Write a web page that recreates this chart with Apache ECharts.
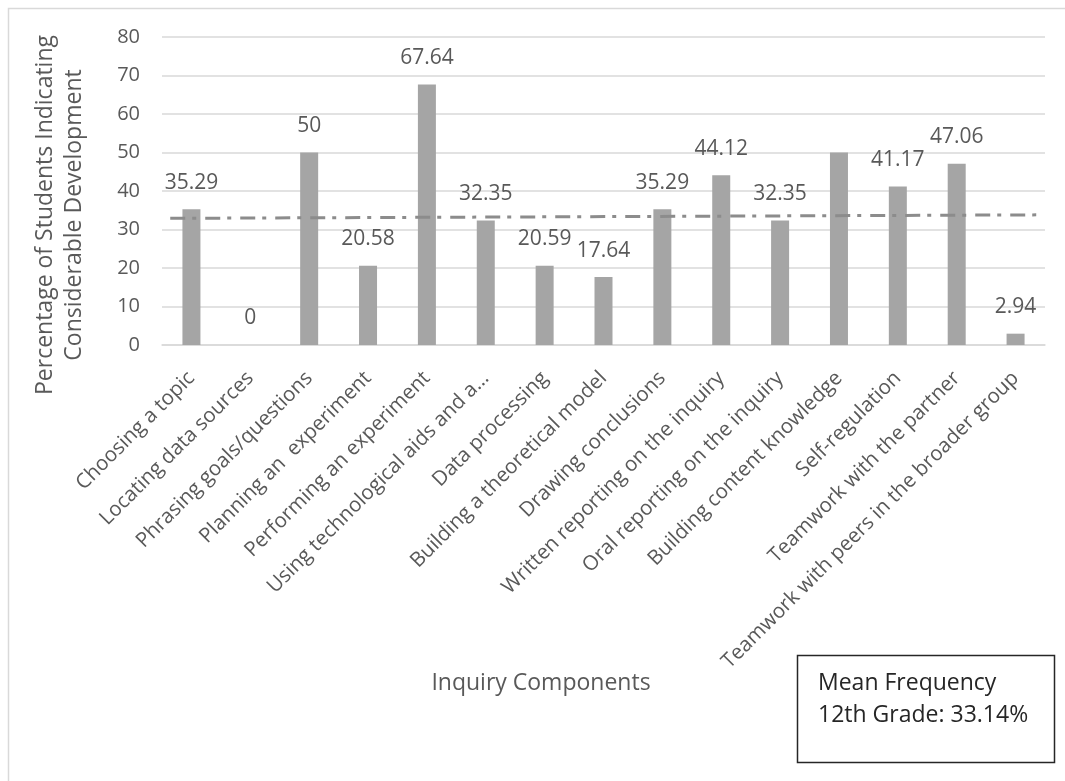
<!DOCTYPE html>
<html>
<head>
<meta charset="utf-8">
<script src="https://cdn.jsdelivr.net/npm/echarts@6/dist/echarts.min.js"></script>
<style>html,body{margin:0;padding:0;background:#fff}#c{width:1065px;height:781px}</style>
</head>
<body>
<div id="c"></div>
<script>
const categories = [
  'Choosing a topic',
  'Locating data sources',
  'Phrasing goals/questions',
  'Planning an  experiment',
  'Performing an experiment',
  'Using technological aids and a\u2026',
  'Data processing',
  'Building a theoretical model',
  'Drawing conclusions',
  'Written reporting on the inquiry',
  'Oral reporting on the inquiry',
  'Building content knowledge',
  'Self-regulation',
  'Teamwork with the partner',
  'Teamwork with peers in the broader group'
];
const values = [35.29, 0, 50, 20.58, 67.64, 32.35, 20.59, 17.64, 35.29, 44.12, 32.35, 50, 41.17, 47.06, 2.94];
const showLabel = [true, true, true, true, true, true, true, true, true, true, true, false, true, true, true];
const meanLineX = [-0.36, 14.36];
const meanLineY = [32.9, 33.8];
const yTicks = {min: 0, max: 80, interval: 10};
const yTitle = ['Percentage of Students Indicating', 'Considerable Development'];
const xTitle = 'Inquiry Components';
const noteLines = ['Mean Frequency', '12th Grade: 33.14%'];

const FONT = 'Open Sans';
const TXT = '#595959';
const chart = echarts.init(document.getElementById('c'), null, {renderer: 'canvas'});

const barData = values.map((v, i) => ({
  value: v,
  label: {show: showLabel[i]}
}));

chart.setOption({
  animation: false,
  backgroundColor: '#ffffff',
  textStyle: {fontFamily: FONT},
  grid: {left: 162, right: 20, top: 37, bottom: 436, containLabel: false},
  xAxis: [{
    type: 'category',
    data: categories,
    axisLine: {show: true, lineStyle: {color: '#D9D9D9', width: 1.5}},
    axisTick: {show: false},
    axisLabel: {interval: 0, rotate: 45, color: TXT, fontSize: 20.5, fontFamily: FONT, margin: 30}
  }, {
    type: 'value',
    min: -0.5, max: 14.5,
    show: false
  }],
  yAxis: {
    type: 'value',
    min: yTicks.min, max: yTicks.max, interval: yTicks.interval,
    axisLine: {show: false},
    axisTick: {show: false},
    axisLabel: {color: TXT, fontSize: 20, fontFamily: FONT, margin: 22},
    splitLine: {lineStyle: {color: '#D9D9D9', width: 1.5}}
  },
  series: [{
    type: 'bar',
    data: barData,
    barWidth: 18,
    itemStyle: {color: '#A5A5A5'},
    label: {show: true, position: 'top', distance: 16, color: TXT, fontSize: 21, fontFamily: FONT,
      formatter: p => String(p.value)}
  }, {
    type: 'line',
    xAxisIndex: 1,
    data: meanLineX.map((x, i) => [x, meanLineY[i]]),
    symbol: 'none',
    lineStyle: {color: '#8C8C8C', width: 3, type: [15, 7, 4, 9]},
    z: 5
  }],
  graphic: [{
    type: 'rect',
    shape: {x: 8.5, y: 8.5, width: 1080, height: 800},
    style: {fill: 'none', stroke: '#D9D9D9', lineWidth: 1.5},
    silent: true
  }, {
    type: 'text',
    x: 60, y: 215,
    rotation: Math.PI / 2,
    style: {text: yTitle.join('\n'), fill: TXT, font: '23px "Open Sans"', align: 'center', verticalAlign: 'middle', lineHeight: 29}
  }, {
    type: 'text',
    x: 541, y: 683,
    style: {text: xTitle, fill: TXT, font: '23px "Open Sans"', align: 'center', verticalAlign: 'middle'}
  }, {
    type: 'rect',
    shape: {x: 797.5, y: 655.5, width: 257, height: 107},
    style: {fill: '#fff', stroke: '#262626', lineWidth: 1.5}
  }, {
    type: 'text',
    x: 818, y: 699,
    style: {text: noteLines.join('\n'), fill: '#262626', font: '23px "Open Sans"', align: 'left', verticalAlign: 'middle', lineHeight: 32}
  }]
});
</script>
</body>
</html>
